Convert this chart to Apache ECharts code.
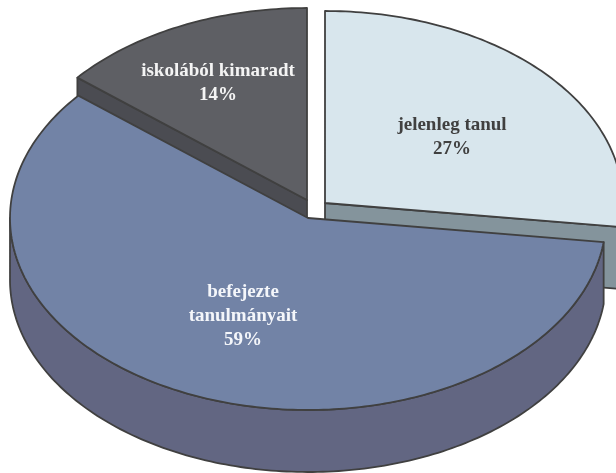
<!DOCTYPE html>
<html>
<head>
<meta charset="utf-8">
<style>
  html, body { margin: 0; padding: 0; background: #fff; }
  #chart { width: 616px; height: 473px; }
</style>
<script src="https://cdn.jsdelivr.net/npm/echarts@6/dist/echarts.min.js"></script>
</head>
<body>
<div id="chart"></div>
<script>
// chart values, going clockwise from 12 o'clock
const categories = ['jelenleg tanul', 'befejezte\ntanulmányait', 'iskolából kimaradt'];
const shares = [27, 59, 14];

// pie geometry in pixels
const RadiusX = 298;
const RadiusY = 192;
const Depth = 62;
const origins = [[325, 203], [308, 218], [307, 200]];
const labelAnchors = [[452, 137], [243, 316], [218, 83]];
const paintOrder = [1, 2, 0];

const topColors = ['#d8e6ed', '#7283a6', '#5e5f64'];
const wallColors = ['#84949c', '#626682', '#4b4c52'];
const labelColors = ['#404040', '#f4f6fa', '#f4f4f4'];
const EdgeColor = '#404040';

const total = shares.reduce(function (a, b) { return a + b; }, 0);

function rimPoint(origin, deg, drop) {
  let rad = deg * Math.PI / 180;
  return [origin[0] + RadiusX * Math.sin(rad), origin[1] - RadiusY * Math.cos(rad) + drop];
}

function rimArc(origin, from, to, drop) {
  let pts = [];
  let steps = Math.max(2, Math.ceil(Math.abs(to - from)));
  for (let i = 0; i <= steps; i++) {
    pts.push(rimPoint(origin, from + (to - from) * i / steps, drop));
  }
  return pts;
}

function face(points, fill, z2) {
  return {
    type: 'polygon',
    z2: z2,
    shape: { points: points },
    style: { fill: fill, stroke: EdgeColor, lineWidth: 1.8, lineJoin: 'round' }
  };
}

function radialWall(origin, deg, fill, z2) {
  let rim = rimPoint(origin, deg, 0);
  return face([origin, rim, [rim[0], rim[1] + Depth], [origin[0], origin[1] + Depth]], fill, z2);
}

function renderSlice(params, api) {
  let i = api.value(0);
  let before = 0;
  for (let k = 0; k < i; k++) before += shares[k];
  let start = before / total * 360;
  let end = start + api.value(1) / total * 360;
  let origin = origins[i];
  let z = paintOrder[i] * 10;
  let children = [];

  // radial walls only show when they face the viewer
  if (Math.sin(start * Math.PI / 180) < 0) children.push(radialWall(origin, start, wallColors[i], z));
  if (Math.sin(end * Math.PI / 180) > 0) children.push(radialWall(origin, end, wallColors[i], z));

  // outer wall, front half of the rim only
  let wallFrom = Math.max(start, 90);
  let wallTo = Math.min(end, 270);
  if (wallTo > wallFrom) {
    let upper = rimArc(origin, wallFrom, wallTo, 0);
    let lower = rimArc(origin, wallTo, wallFrom, Depth);
    children.push(face(upper.concat(lower), wallColors[i], z + 1));
  }

  children.push(face([origin].concat(rimArc(origin, start, end, 0)), topColors[i], z + 2));
  children.push({
    type: 'text',
    z2: 100,
    style: {
      x: labelAnchors[i][0],
      y: labelAnchors[i][1],
      text: categories[i] + '\n' + api.value(1) + '%',
      fill: labelColors[i],
      font: 'bold 19px "Liberation Serif"',
      lineHeight: 24,
      align: 'center',
      verticalAlign: 'middle'
    }
  });
  return { type: 'group', children: children };
}

const chart = echarts.init(document.getElementById('chart'), null, { width: 616, height: 473 });
chart.setOption({
  backgroundColor: '#ffffff',
  animation: false,
  series: [{
    type: 'custom',
    coordinateSystem: 'none',
    renderItem: renderSlice,
    data: shares.map(function (v, i) { return [i, v]; })
  }]
});
</script>
</body>
</html>
